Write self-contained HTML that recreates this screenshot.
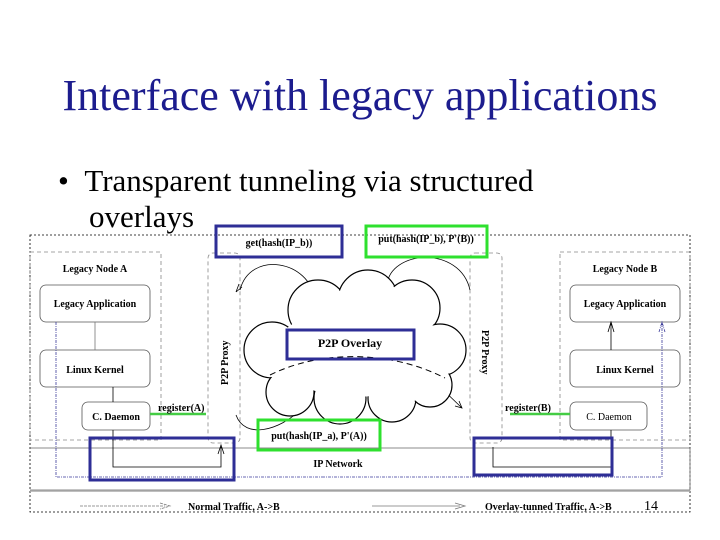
<!DOCTYPE html>
<html><head><meta charset="utf-8"><style>
body{margin:0;background:#fff;width:720px;height:540px;overflow:hidden;position:relative}
.t{position:absolute;font-family:"Liberation Serif",serif;white-space:nowrap}
</style></head><body>
<div class="t" style="left:0;width:720px;top:70px;text-align:center;font-size:44px;color:#1c1c8e">Interface with legacy applications</div>
<div class="t" style="left:58px;top:163px;font-size:31px;color:#000">•&nbsp;&nbsp;Transparent tunneling via structured</div>
<div class="t" style="left:89px;top:199px;font-size:31px;color:#000">overlays</div>
<svg width="720" height="540" style="position:absolute;left:0;top:0" font-family="Liberation Serif,serif" font-weight="bold" font-size="10">
<g fill="none" stroke="#000" stroke-width="0.8">
<rect x="30" y="235" width="660" height="277" stroke-dasharray="2,2"/>
<rect x="30" y="252" width="131" height="188" stroke="#888" stroke-dasharray="4,3"/>
<rect x="560" y="252" width="130" height="188" stroke="#888" stroke-dasharray="4,3"/>
<rect x="208" y="253" width="32" height="190" rx="5" stroke="#888" stroke-dasharray="4,3"/>
<rect x="470" y="253" width="32" height="190" rx="5" stroke="#888" stroke-dasharray="4,3"/>
<rect x="40" y="285" width="110" height="37" rx="6" stroke="#555"/>
<rect x="40" y="350" width="110" height="37" rx="6" stroke="#555"/>
<rect x="82" y="402" width="68" height="28" rx="6" stroke="#555"/>
<rect x="570" y="285" width="110" height="37" rx="6" stroke="#555"/>
<rect x="570" y="350" width="110" height="37" rx="6" stroke="#555"/>
<rect x="570" y="402" width="77" height="28" rx="6" stroke="#555"/>
<path d="M30 448H690V490H30" stroke="#666"/>
<line x1="30" y1="491" x2="690" y2="491" stroke="#aaa" stroke-width="1.5"/>
<line x1="95" y1="322" x2="95" y2="350" stroke="#777"/>
<line x1="113" y1="387" x2="113" y2="402"/>
<path d="M113 430V467H221V447M218 454L221 445L224 454"/>
<path d="M611 430V467H493V447"/>
<path d="M611 350V322M608 332L611 322L614 332"/>
<path d="M56 322V477H322" stroke="#3a3a9a" stroke-dasharray="3,1,1,1"/>
<path d="M322 477H662V322M659 332L662 322L665 332" stroke="#3a3a9a" stroke-dasharray="3,1,1,1"/>
<path d="M80 506H165M160 503L170 506L160 509" stroke="#777" stroke-dasharray="3,1"/>
<path d="M372 506H460M455 503L465 506L455 509" stroke="#777"/>
<path d="M240 290C250 250 310 260 315 300"/><path d="M236 292l3-8M236 292l6-5"/>
<path d="M387 285C390 250 460 245 470 290"/>
<path d="M236 415C245 440 280 430 300 410"/>
<path d="M438 385L462 408M455 406l7 2l-3-7"/>
</g>
<g stroke="#000" stroke-width="1.2" fill="#fff">
<circle cx="318" cy="310" r="30"/><circle cx="368" cy="300" r="30"/><circle cx="412" cy="308" r="28"/>
<circle cx="272" cy="350" r="28"/><circle cx="440" cy="350" r="26"/>
<circle cx="290" cy="392" r="24"/><circle cx="340" cy="398" r="26"/><circle cx="392" cy="398" r="24"/><circle cx="430" cy="385" r="22"/>
</g>
<g fill="#fff">
<circle cx="318" cy="310" r="29"/><circle cx="368" cy="300" r="29"/><circle cx="412" cy="308" r="27"/>
<circle cx="272" cy="350" r="27"/><circle cx="440" cy="350" r="25"/>
<circle cx="290" cy="392" r="23"/><circle cx="340" cy="398" r="25"/><circle cx="392" cy="398" r="23"/><circle cx="430" cy="385" r="21"/>
<ellipse cx="355" cy="352" rx="80" ry="45"/>
</g>
<path d="M270 375C320 350 390 350 445 378" fill="none" stroke="#000" stroke-dasharray="6,4"/>
<g fill="none" stroke-width="3">
<rect x="216" y="226" width="126" height="31" stroke="#2e2e96"/>
<rect x="287" y="330" width="127" height="29" stroke="#2e2e96"/>
<rect x="90" y="438" width="144" height="42" stroke="#2e2e96"/>
<rect x="474" y="438" width="138" height="37" stroke="#2e2e96"/>
<rect x="366" y="226" width="121" height="31" stroke="#2ee02e"/>
<rect x="258" y="420" width="122" height="30" stroke="#2ee02e"/>
</g>
<g stroke="#4c4" stroke-width="2.5"><line x1="150" y1="414" x2="206" y2="414"/><line x1="510" y1="414" x2="570" y2="414"/></g>
<text x="95" y="272" text-anchor="middle">Legacy Node A</text>
<text x="95" y="307" text-anchor="middle">Legacy Application</text>
<text x="95" y="373" text-anchor="middle">Linux Kernel</text>
<text x="116" y="420" text-anchor="middle">C. Daemon</text>
<text x="625" y="272" text-anchor="middle">Legacy Node B</text>
<text x="625" y="307" text-anchor="middle">Legacy Application</text>
<text x="625" y="373" text-anchor="middle">Linux Kernel</text>
<text x="609" y="420" text-anchor="middle" font-weight="normal">C. Daemon</text>
<text x="158" y="411">register(A)</text>
<text x="505" y="411">register(B)</text>
<text x="279" y="246" text-anchor="middle">get(hash(IP_b))</text>
<text x="426" y="242" text-anchor="middle">put(hash(IP_b), P'(B))</text>
<text x="319" y="439" text-anchor="middle">put(hash(IP_a), P'(A))</text>
<text x="350" y="347" text-anchor="middle" font-size="12">P2P Overlay</text>
<text x="338" y="467" text-anchor="middle">IP Network</text>
<text x="188" y="510">Normal Traffic, A-&gt;B</text>
<text x="485" y="510">Overlay-tunned Traffic, A-&gt;B</text>
<text transform="translate(228,385) rotate(-90)" font-size="10">P2P  Proxy</text>
<text transform="translate(482,330) rotate(90)" font-size="10">P2P  Proxy</text>
<text x="644" y="510" font-weight="normal" font-size="14">14</text>
</svg>
</body></html>
